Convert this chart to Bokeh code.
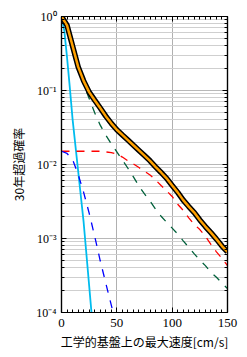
from bokeh.plotting import figure
from bokeh.models import LinearAxis, LogAxis, SingleIntervalTicker, LogTicker, CustomJSTickFormatter
from bokeh.embed import file_html
from bokeh.resources import INLINE

# velocity grid [cm/s]
v_main = [0, 5, 10, 15, 20, 25, 30, 35, 40, 45, 50, 55, 60, 65, 70, 75,
          80, 85, 90, 95, 100, 105, 110, 115, 120, 125, 130, 135, 140, 145, 150]

total = [1.0, 0.76, 0.40, 0.21, 0.135, 0.095, 0.074, 0.058, 0.045, 0.0360,
         0.0295, 0.0251, 0.0214, 0.0182, 0.0155, 0.0132, 0.0112, 0.0093,
         0.0078, 0.0065, 0.0052, 0.0042, 0.0033, 0.0027, 0.00224, 0.00178,
         0.00145, 0.0012, 0.00098, 0.00079, 0.00066]

green = [1.0, 0.74, 0.38, 0.195, 0.12, 0.078, 0.050, 0.034, 0.0250, 0.019,
         0.0148, 0.0115, 0.0089, 0.0068, 0.0051, 0.0040, 0.0032, 0.0025,
         0.0020, 0.00166, 0.00138, 0.00115, 0.00093, 0.00076, 0.00062,
         0.00051, 0.00043, 0.00035, 0.00030, 0.00025, 0.00021]

red = [0.0151, 0.0151, 0.0151, 0.0151, 0.0151, 0.0151, 0.0151, 0.0151,
       0.0148, 0.0145, 0.0138, 0.0126, 0.0112, 0.0102, 0.0091, 0.0081,
       0.0072, 0.0062, 0.0052, 0.0044, 0.0037, 0.0029, 0.0024, 0.0019,
       0.00155, 0.00132, 0.00107, 0.00083, 0.00066, 0.00054, 0.00043]

v_blue = [0, 5, 10, 15, 20, 25, 30, 35, 40, 45, 47]
blue = [0.0151, 0.0141, 0.0117, 0.0074, 0.0042, 0.0022, 0.00107, 0.0005,
        0.00025, 0.000126, 0.000095]

v_cyan = [0, 2.5, 5, 7.5, 10, 15, 20, 25, 27.5]
cyan = [1.0, 0.65, 0.28, 0.11, 0.041, 0.0083, 0.00166, 0.00023, 0.000085]

x_ticks = [0, 50, 100, 150]
y_ticks = [1e-4, 1e-3, 1e-2, 1e-1, 1]
y_tick_labels = ["10⁻⁴", "10⁻³", "10⁻²", "10⁻¹", "10⁰"]

p = figure(width=247, height=357, x_range=(0, 150), y_range=(1e-4, 1),
           y_axis_type="log", output_backend="svg", toolbar_location=None,
           min_border_left=61, min_border_right=20, min_border_top=16,
           min_border_bottom=45, outline_line_color="black",
           outline_line_width=1.2)

serif = "Liberation Serif"
cjk = "Noto Sans CJK JP"

xt = SingleIntervalTicker(interval=50, num_minor_ticks=10)
yt = LogTicker(num_minor_ticks=10)

p.xaxis.ticker = xt
p.yaxis.ticker = yt
p.yaxis.major_label_overrides = {t: l for t, l in zip(y_ticks, y_tick_labels)}

for ax in [p.xaxis[0], p.yaxis[0]]:
    ax.major_tick_in = 5
    ax.major_tick_out = 0
    ax.minor_tick_in = 3
    ax.minor_tick_out = 0
    ax.axis_line_width = 1.2
    ax.major_label_text_font = serif
    ax.major_label_text_color = "black"
    ax.axis_label_text_font_style = "normal"
    ax.axis_label_text_color = "black"

p.xaxis.major_label_text_font_size = "13px"
p.yaxis.major_label_text_font_size = "12px"
p.xaxis.major_label_standoff = 6
p.yaxis.major_label_standoff = 5

p.xaxis.axis_label = "工学的基盤上の最大速度[cm/s]"
p.xaxis.axis_label_text_font = cjk
p.xaxis.axis_label_text_font_size = "12px"
p.xaxis.axis_label_standoff = 3
p.yaxis.axis_label = "30年超過確率"
p.yaxis.axis_label_text_font = cjk
p.yaxis.axis_label_text_font_size = "12px"
p.yaxis.axis_label_standoff = 6

blank = CustomJSTickFormatter(code="return ''")
top = LinearAxis(ticker=xt, formatter=blank, major_tick_in=5, major_tick_out=0,
                 minor_tick_in=3, minor_tick_out=0, axis_line_width=1.2,
                 major_label_text_font_size="1px", major_label_text_color=None,
                 major_label_standoff=0)
right = LogAxis(ticker=yt, formatter=blank, major_tick_in=5, major_tick_out=0,
                minor_tick_in=3, minor_tick_out=0, axis_line_width=1.2,
                major_label_text_font_size="1px", major_label_text_color=None,
                major_label_standoff=0)
p.add_layout(top, "above")
p.add_layout(right, "right")

p.xgrid.grid_line_color = "#b0b0b0"
p.xgrid.grid_line_width = 1
p.ygrid.grid_line_color = "#b8b8b8"
p.ygrid.minor_grid_line_color = "#cfcfcf"

p.line(v_cyan, cyan, line_color="#00bcee", line_width=1.8)
p.line(v_main, red, line_color="#ff0000", line_width=1.3, line_dash="8 7")
p.line(v_blue, blue, line_color="#0000ff", line_width=1.3, line_dash="8 8")
p.line(v_main, green, line_color="#00603a", line_width=1.3, line_dash="8 8")
p.line(v_main, total, line_color="black", line_width=5.5)
p.line(v_main, total, line_color="#ffa000", line_width=2.5)

open("out.html", "w").write(file_html(p, INLINE))
